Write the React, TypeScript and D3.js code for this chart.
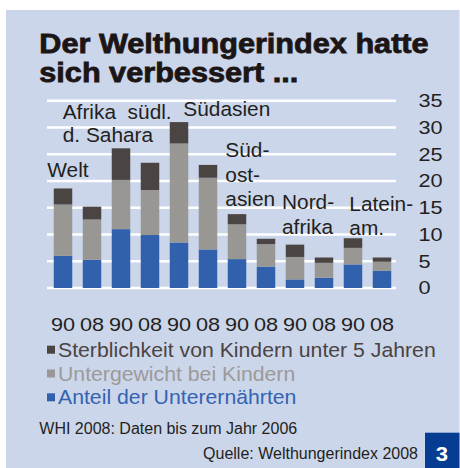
import React from "react";
import * as d3 from "d3";

// ---- data ----
const years = ["90", "08", "90", "08", "90", "08", "90", "08", "90", "08", "90", "08"];
const regionLabels: string[][] = [
  ["Welt"],
  ["Afrika  südl.", "d. Sahara"],
  ["Südasien"],
  ["Süd-", "ost-", "asien"],
  ["Nord-", "afrika"],
  ["Latein-", "am."],
];
const unterernaehrte = [6.0, 5.3, 11.0, 9.9, 8.5, 7.2, 5.4, 4.0, 1.6, 1.9, 4.4, 3.2];
const untergewicht = [9.6, 7.5, 9.2, 8.4, 18.5, 13.4, 6.5, 4.2, 4.2, 2.8, 3.1, 1.7];
const sterblichkeit = [3.0, 2.4, 5.9, 5.1, 4.0, 2.4, 1.9, 1.0, 2.3, 1.0, 1.8, 0.8];
const yTicks = [0, 5, 10, 15, 20, 25, 30, 35];
const seriesNames = [
  "Sterblichkeit von Kindern unter 5 Jahren",
  "Untergewicht bei Kindern",
  "Anteil der Unterernährten",
];

// ---- styles / layout ----
const W = 460;
const H = 468;
const BG = "#cbd6ea";
const C_DARK = "#4a4443";
const C_GRAY = "#999794";
const C_BLUE = "#3161ad";
const TXT = "#231f20";
const FONT = "'Liberation Sans', Arial, Helvetica, sans-serif";

const labelLayout = [
  { x: 47.3, y: 177, lh: 0 },
  { x: 62.7, y: 119, lh: 22.7 },
  { x: 183.3, y: 116, lh: 0 },
  { x: 225.3, y: 157, lh: 24.5 },
  { x: 282, y: 209, lh: 25 },
  { x: 349.3, y: 211, lh: 24 },
];

type TProps = {
  x: number;
  y: number;
  sx?: number;
  size: number;
  weight?: string | number;
  fill?: string;
  anchor?: "start" | "middle" | "end";
  stroke?: string;
  strokeWidth?: number;
  children: React.ReactNode;
};
const T = ({ x, y, sx = 1, size, weight = "normal", fill = TXT, anchor = "start", stroke, strokeWidth, children }: TProps) => (
  <text
    transform={`translate(${x},${y}) scale(${sx},1)`}
    fontSize={size}
    fontWeight={weight}
    fill={fill}
    textAnchor={anchor}
    fontFamily={FONT}
    stroke={stroke}
    strokeWidth={strokeWidth}
    style={{ whiteSpace: "pre" }}
  >
    {children}
  </text>
);

export default function App() {
  const idx = years.map((_, i) => i);
  const x = d3.scalePoint<number>().domain(idx).range([63, 382]);
  const y = d3.scaleLinear().domain([0, 35]).range([288, 100.7]);
  const bw = 18.5;

  const rows = idx.map((i) => ({ i, blue: unterernaehrte[i], gray: untergewicht[i], dark: sterblichkeit[i] }));
  const stack = d3.stack<any>().keys(["blue", "gray", "dark"]);
  const layers = stack(rows);
  const colors: Record<string, string> = { blue: C_BLUE, gray: C_GRAY, dark: C_DARK };

  const legendColors = [C_DARK, "#9a9897", C_BLUE];
  const legendText = [C_DARK, "#9c9a99", "#3563b1"];

  return (
    <svg
      width={W}
      height={H}
      viewBox={`0 0 ${W} ${H}`}
      style={{ position: "absolute", left: 0, top: 0 }}
    >
      <rect x={0} y={0} width={W} height={H} fill="#ffffff" />
      <rect x={6} y={10} width={453.5} height={458} fill={BG} />

      {/* title */}
      <T x={39.3} y={52.7} size={27} sx={1.135} weight="bold" fill="#1b1516" stroke="#1b1516" strokeWidth={0.8}>
        Der Welthungerindex hatte
      </T>
      <T x={39.3} y={81.7} size={27} sx={1.135} weight="bold" fill="#1b1516" stroke="#1b1516" strokeWidth={0.8}>
        sich verbessert ...
      </T>

      {/* grid */}
      {yTicks.map((t) => (
        <line key={"g" + t} x1={47} x2={396} y1={y(t)} y2={y(t)} stroke="#ffffff" strokeWidth={2.6} />
      ))}

      {/* y tick labels */}
      {yTicks.map((t) => (
        <T key={"t" + t} x={418.5} y={y(t) + 6.3} size={17.5} sx={1.24}>
          {String(t)}
        </T>
      ))}

      {/* bars */}
      {layers.map((layer) => (
        <g key={layer.key} fill={colors[layer.key]}>
          {layer.map((d, j) => (
            <rect
              key={j}
              x={(x(j) as number) - bw / 2}
              y={y(d[1])}
              width={bw}
              height={y(d[0]) - y(d[1])}
            />
          ))}
        </g>
      ))}

      {/* region labels */}
      {regionLabels.map((lines, g) =>
        lines.map((ln, k) => (
          <T key={`r${g}-${k}`} x={labelLayout[g].x} y={labelLayout[g].y + k * labelLayout[g].lh} size={19.5} sx={1.07}>
            {ln}
          </T>
        ))
      )}

      {/* x labels */}
      {years.map((yr, i) => (
        <T key={"x" + i} x={x(i) as number} y={331} size={17.5} sx={1.24} anchor="middle">
          {yr}
        </T>
      ))}

      {/* legend */}
      {seriesNames.map((s, k) => {
        const by = 356.7 + k * 23.8;
        return (
          <g key={"l" + k}>
            <rect x={47} y={by - 11} width={8} height={8} fill={legendColors[k]} />
            <T x={58} y={by} size={19.5} sx={1.09} fill={legendText[k]}>
              {s}
            </T>
          </g>
        );
      })}

      {/* footnotes */}
      <T x={39.3} y={434} size={16}>
        WHI 2008: Daten bis zum Jahr 2006
      </T>
      <T x={418} y={458.7} size={16} anchor="end">
        Quelle: Welthungerindex 2008
      </T>

      <rect x={425} y={432.7} width={34.5} height={35.3} fill="#063c92" />
      <T x={442} y={461} size={21} weight="bold" fill="#ffffff" anchor="middle" sx={1.05}>
        3
      </T>
    </svg>
  );
}
